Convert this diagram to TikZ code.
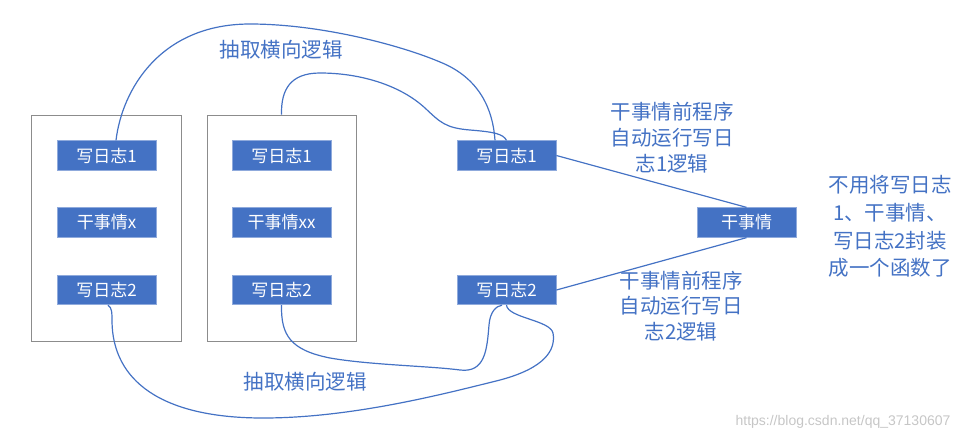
\documentclass[tikz,border=0pt]{standalone}
\usepackage{fontspec}
\setmainfont{Noto Sans CJK SC}
\newfontfamily\wmfont{Liberation Sans}
\definecolor{ob}{HTML}{4472C4}
\definecolor{obl}{HTML}{8FAADC}
\definecolor{frm}{HTML}{8C8C8C}
\begin{document}
\begin{tikzpicture}[x=1pt,y=-1pt,
  frame/.style={draw=frm, line width=0.9pt, minimum width=150pt, minimum height=226pt, inner sep=0pt},
  box/.style={fill=ob, draw=obl, line width=0.8pt, text=white, minimum width=99pt, minimum height=29.5pt, inner sep=0pt, font=\fontsize{17}{20}\selectfont},
  conn/.style={draw=ob, line width=1.2pt},
  lbl/.style={text=ob, font=\fontsize{20.5}{25.8}\selectfont, align=center, inner sep=0pt},
  lblb/.style={text=ob, font=\fontsize{20.5}{24}\selectfont, inner sep=0pt}
]
\useasboundingbox (0,0) rectangle (974,440);
\node[frame] (f1) at (106,228) {};
\node[frame, minimum width=149pt] (f2) at (281.5,228) {};
\node[box] (a1) at (106.5,155.5) {写日志1};
\node[box] (a2) at (106.5,222.5) {干事情x};
\node[box] (a3) at (106.5,290) {写日志2};
\node[box] (b1) at (281.5,155.5) {写日志1};
\node[box] (b2) at (281.5,222.5) {干事情xx};
\node[box] (b3) at (281.5,290) {写日志2};
\node[box] (c1) at (506.5,155.5) {写日志1};
\node[box] (c3) at (506.5,290) {写日志2};
\node[box] (d) at (746.5,222.5) {干事情};

\node[lblb] (t1) at (281,50) {抽取横向逻辑};
\node[lblb] (t2) at (305,382) {抽取横向逻辑};
\node[lbl] (l1) at (672,137.5) {干事情前程序\\自动运行写日\\志1逻辑};
\node[lbl] (l2) at (681,306) {干事情前程序\\自动运行写日\\志2逻辑};
\node[lbl, font=\fontsize{20.5}{27.7}\selectfont] (l3) at (890,226.5) {不用将写日志\\1、干事情、\\写日志2封装\\成一个函数了};
\node[text=gray!45, font=\wmfont\fontsize{14}{16}\selectfont, inner sep=0pt] (wm) at (843,422) {https://blog.csdn.net/qq\_37130607};

% top outer curve
\draw[conn] ([xshift=9.5pt]a1.north) .. controls (122,90) and (160,24) .. (250,24)
  .. controls (320,24) and (400,45) .. (440,62)
  .. controls (480,78) and (493,110) .. ([xshift=-11.5pt]c1.north);
% top inner curve
\draw[conn] (f2.north) .. controls (281,90) and (290,73) .. (320,73)
  .. controls (360,73) and (400,85) .. (425,108)
  .. controls (440,122) and (445,128) .. (470,130)
  .. controls (495,132) and (503,134) .. (c1.north);
% bottom outer curve
\draw[conn] ([xshift=1.5pt]a3.south) .. controls (112,308) and (112,312) .. (112,322)
  .. controls (113,380) and (160,418) .. (263,418)
  .. controls (350,418) and (440,395) .. (500,380)
  .. controls (545,368) and (556,350) .. (553,333)
  .. controls (550,320) and (508,318) .. (c3.south);
% bottom inner curve
\draw[conn] (b3.south) .. controls (281,335) and (290,350) .. (330,358)
  .. controls (370,365) and (430,366) .. (460,370)
  .. controls (485,373) and (487,350) .. (489,325)
  .. controls (490,312) and (496,306) .. ([xshift=-4.5pt]c3.south);
% straight connectors
\draw[conn] (c1.east) -- (d.north);
\draw[conn] (c3.east) -- (d.south);
\end{tikzpicture}
\end{document}
